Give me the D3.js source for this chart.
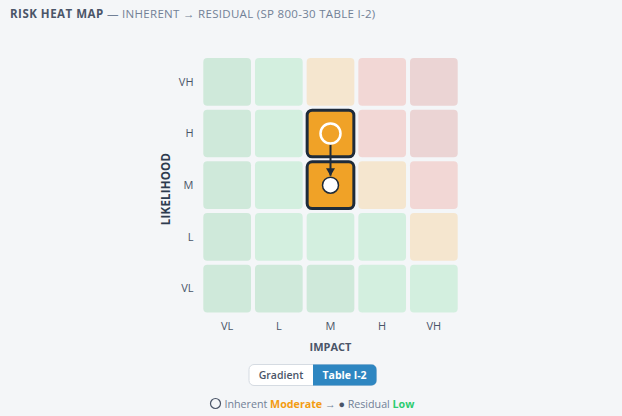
<!DOCTYPE html>
<html><head><meta charset="utf-8">
<script src="https://cdn.jsdelivr.net/npm/d3@7"></script>
<style>
html,body{margin:0;padding:0;background:#f4f6f8;}
svg{display:block;font-family:"Open Sans",sans-serif;}
</style></head>
<body><svg id="c" width="622" height="416"></svg>
<script>
const impactLevels = ["VL","L","M","H","VH"];
const likelihoodLevels = ["VH","H","M","L","VL"];
// risk level per likelihood row (top→bottom) and impact column (left→right), SP 800-30 Table I-2
const riskVH = ["VL","L","M","H","VH"];
const riskH  = ["VL","L","M","H","VH"];
const riskM  = ["VL","L","M","M","H"];
const riskL  = ["VL","L","L","L","M"];
const riskVL = ["VL","VL","VL","L","L"];
const riskRows = [riskVH, riskH, riskM, riskL, riskVL];
const riskLevelKeys = ["VL","L","M","H","VH"];
const riskLevelFill = ["#cfe9da","#d3efdf","#f5e6cf","#f2d7d5","#ebd4d4"];
const inherent = {likelihood:"H", impact:"M", level:"Moderate"};
const residual = {likelihood:"M", impact:"M", level:"Low"};
const toggleLabels = ["Gradient","Table I-2"];

const svg = d3.select("#c");
const x = d3.scaleBand().domain(impactLevels).range([201.3,459.7]).paddingInner(0.077).paddingOuter(0.0385);
const y = d3.scaleBand().domain(likelihoodLevels).range([56,314.4]).paddingInner(0.077).paddingOuter(0.0385);
const fill = d3.scaleOrdinal().domain(riskLevelKeys).range(riskLevelFill);

// title
const t = svg.append("text").attr("x",10).attr("y",17.5).attr("font-size",11.5);
t.append("tspan").attr("font-weight",700).attr("fill","#4a5568").attr("letter-spacing",0.5).text("RISK HEAT MAP");
t.append("tspan").attr("fill","#718096").attr("letter-spacing",0.3).text(" — INHERENT → RESIDUAL (SP 800-30 TABLE I-2)");

// cells
const cells = [];
likelihoodLevels.forEach((lk,i)=>impactLevels.forEach((im,j)=>cells.push({lk,im,r:riskRows[i][j]})));
const isHi = d => (d.lk===inherent.likelihood&&d.im===inherent.impact)||(d.lk===residual.likelihood&&d.im===residual.impact);
svg.append("g").selectAll("rect").data(cells.filter(d=>!isHi(d))).join("rect")
  .attr("x",d=>x(d.im)).attr("y",d=>y(d.lk)).attr("width",x.bandwidth()).attr("height",y.bandwidth())
  .attr("rx",4).attr("fill",d=>fill(d.r));
svg.append("g").selectAll("rect").data(cells.filter(isHi)).join("rect")
  .attr("x",d=>x(d.im)+0.5).attr("y",d=>y(d.lk)+0.5).attr("width",x.bandwidth()-1).attr("height",y.bandwidth()-1)
  .attr("rx",5).attr("fill","#f0a227").attr("stroke","#1e2b3a").attr("stroke-width",3);

// axes labels
svg.append("g").selectAll("text").data(likelihoodLevels).join("text")
  .attr("x",193.5).attr("y",d=>y(d)+y.bandwidth()/2).attr("dy","0.35em").attr("text-anchor","end")
  .attr("font-size",11).attr("fill","#4a5568").text(d=>d);
svg.append("g").selectAll("text").data(impactLevels).join("text")
  .attr("x",d=>x(d)+x.bandwidth()/2).attr("y",326).attr("dy","0.35em").attr("text-anchor","middle")
  .attr("font-size",11).attr("fill","#4a5568").text(d=>d);
svg.append("text").attr("x",330.5).attr("y",347).attr("dy","0.35em").attr("text-anchor","middle")
  .attr("font-size",11).attr("font-weight",700).attr("fill","#4a5568").text("IMPACT");
svg.append("text").attr("transform","translate(165.5,189) rotate(-90)").attr("dy","0.35em").attr("text-anchor","middle")
  .attr("font-size",11.5).attr("font-weight",700).attr("fill","#2d3b4e").attr("letter-spacing",0.2).text("LIKELIHOOD");

// markers
const defs = svg.append("defs");
defs.append("marker").attr("id","ah").attr("viewBox","0 0 10 10").attr("refX",10).attr("refY",5)
  .attr("markerWidth",5).attr("markerHeight",5).attr("markerUnits","userSpaceOnUse").attr("orient","auto")
  .append("path").attr("d","M0,0L10,5L0,10Z").attr("fill","#1e2b3a");
const ix = x(inherent.impact)+x.bandwidth()/2, iy = y(inherent.likelihood)+y.bandwidth()/2;
const rx = x(residual.impact)+x.bandwidth()/2, ry = y(residual.likelihood)+y.bandwidth()/2;
svg.append("line").attr("x1",ix).attr("y1",iy+11).attr("x2",rx).attr("y2",ry-9.5)
  .attr("stroke","#1e2b3a").attr("stroke-width",2).attr("marker-end","url(#ah)");
svg.append("path").attr("d",`M${rx-4.5},${ry-17}L${rx+4.5},${ry-17}L${rx},${ry-9.5}Z`).attr("fill","#1e2b3a");
svg.append("circle").attr("cx",ix).attr("cy",iy).attr("r",10).attr("fill","none").attr("stroke","#fff").attr("stroke-width",2.5);
svg.append("circle").attr("cx",rx).attr("cy",ry).attr("r",8).attr("fill","#fff").attr("stroke","#1e2b3a").attr("stroke-width",1.5);

// toggle
const tg = svg.append("g");
tg.append("rect").attr("x",249).attr("y",364.5).attr("width",127.5).attr("height",21).attr("rx",5)
  .attr("fill","#fff").attr("stroke","#d5dbe2");
tg.append("path").attr("d","M313,364.5H371.5A5,5 0 0 1 376.5,369.5V380.5A5,5 0 0 1 371.5,385.5H313Z").attr("fill","#2e86c1");
tg.append("text").attr("x",281).attr("y",375).attr("dy","0.35em").attr("text-anchor","middle").attr("font-size",10.5)
  .attr("font-weight",600).attr("fill","#4a5568").text(toggleLabels[0]);
tg.append("text").attr("x",344.5).attr("y",375).attr("dy","0.35em").attr("text-anchor","middle").attr("font-size",10.5)
  .attr("font-weight",700).attr("fill","#fff").text(toggleLabels[1]);

// legend
svg.append("circle").attr("cx",215.5).attr("cy",403.5).attr("r",5).attr("fill","none").attr("stroke","#4a5568").attr("stroke-width",1.2);
const lg = svg.append("text").attr("x",224.5).attr("y",404).attr("dy","0.35em").attr("font-size",10.7).attr("fill","#718096");
lg.append("tspan").text("Inherent ");
lg.append("tspan").attr("font-weight",700).attr("fill","#f39c12").text(inherent.level);
lg.append("tspan").text("  →  ");
lg.append("tspan").attr("fill","#4a5568").text("●");
lg.append("tspan").text(" Residual ");
lg.append("tspan").attr("font-weight",700).attr("fill","#2ecc71").text(residual.level);
</script></body></html>
